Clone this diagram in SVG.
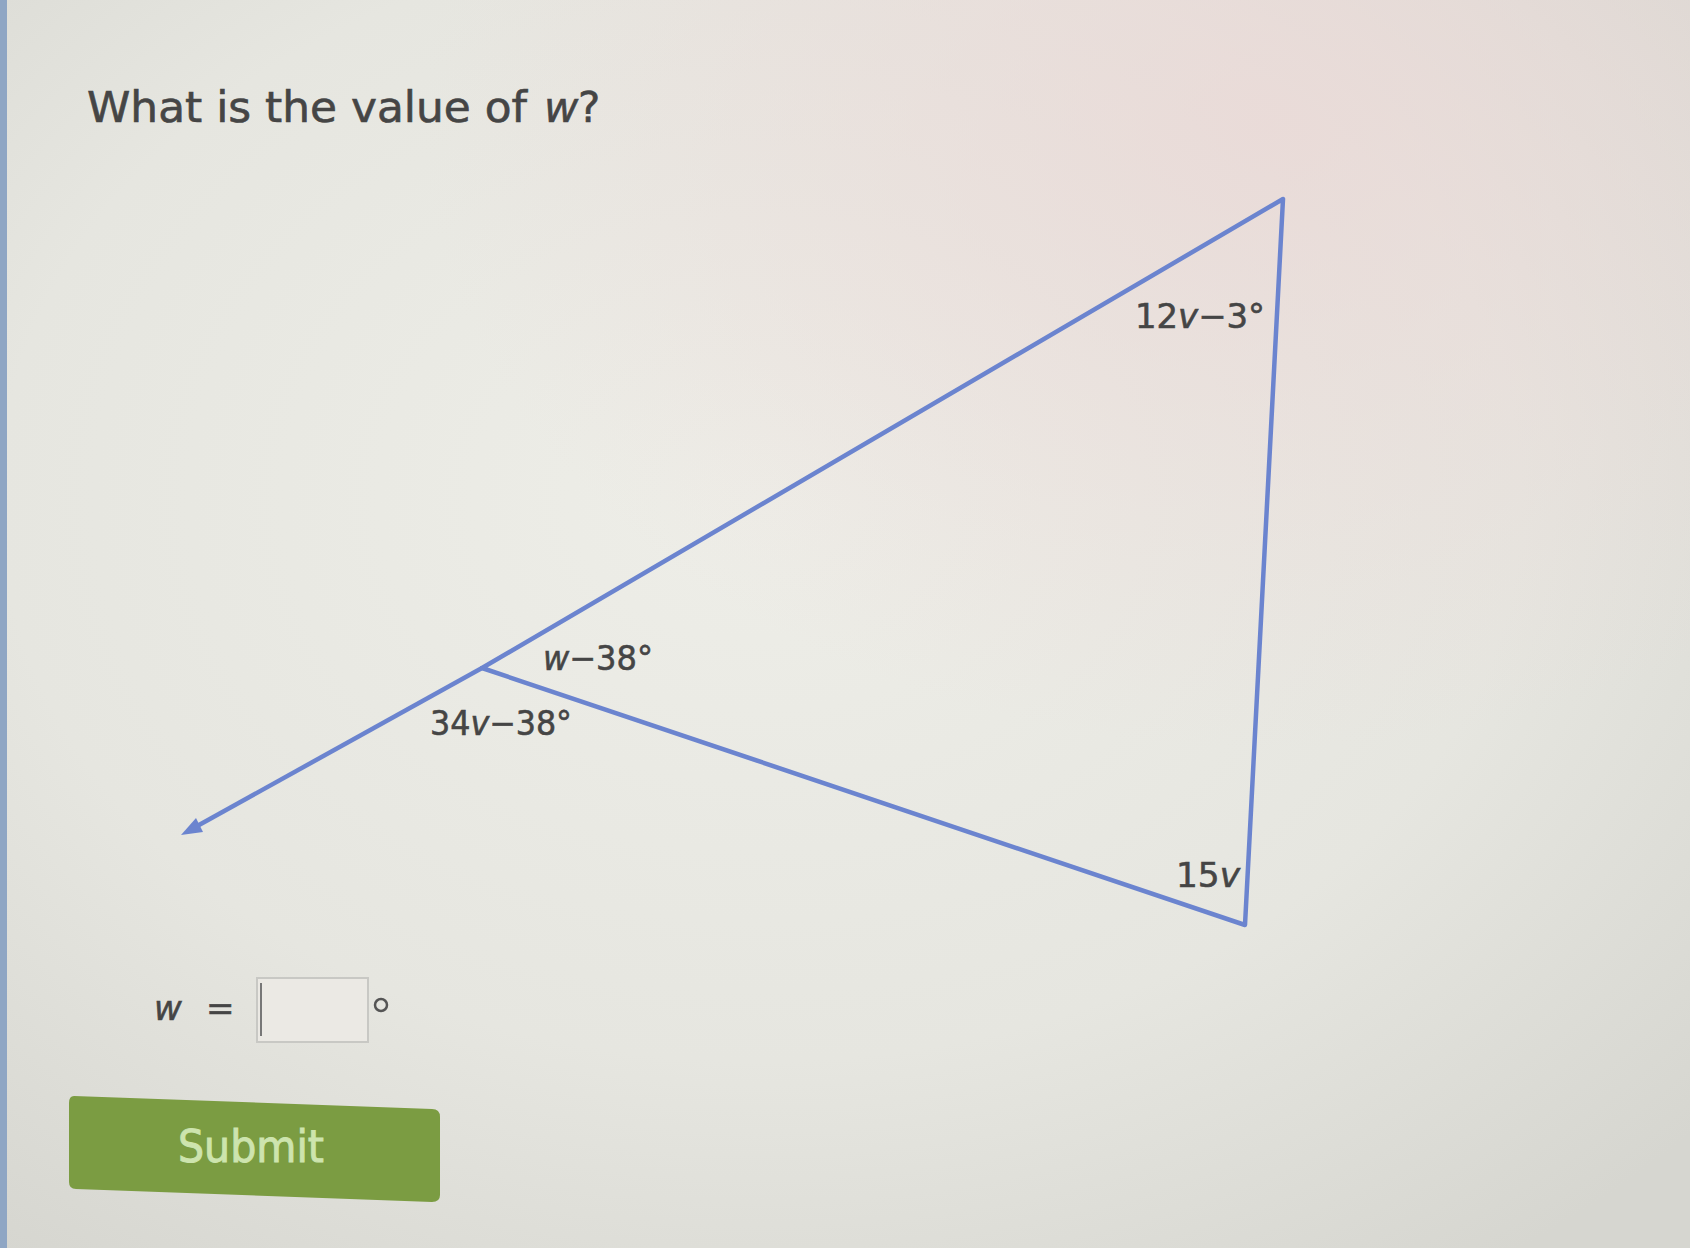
<svg xmlns="http://www.w3.org/2000/svg" width="1690" height="1248" viewBox="0 0 1690 1248">
<defs>
<radialGradient id="bg" cx="0.45" cy="0.4" r="0.75">
<stop offset="0" stop-color="#eeeee8"/>
<stop offset="0.6" stop-color="#e6e6e0"/>
<stop offset="1" stop-color="#d6d6d0"/>
</radialGradient>
<radialGradient id="pink" cx="0.75" cy="0.1" r="0.5">
<stop offset="0" stop-color="#ead8d6" stop-opacity="0.8"/>
<stop offset="1" stop-color="#ead8d6" stop-opacity="0"/>
</radialGradient>
<style>
.t{font-family:"DejaVu Sans",Verdana,sans-serif;fill:#454545;stroke:#454545;stroke-width:0.6}
.lbl{font-size:34px}
.ln{stroke:#6b84cf;stroke-width:4.5;fill:none;stroke-linejoin:round}
</style>
</defs>
<rect width="1690" height="1248" fill="url(#bg)"/>
<rect width="1690" height="1248" fill="url(#pink)"/>
<rect x="0" y="0" width="7" height="1248" fill="#8fa6c4"/>
<g id="title">
<text class="t" x="87" y="122" font-size="42" textLength="440" lengthAdjust="spacingAndGlyphs">What is the value of</text>
<text class="t" x="544" y="122" font-size="42" font-style="italic">w</text>
<text class="t" x="578" y="122" font-size="42">?</text>
</g>
<g id="connectors">
<polygon class="ln" points="1283,199 1245,925 482,668"/>
<line class="ln" x1="482" y1="668" x2="190" y2="830"/>
<polygon points="181,835 196,818 203,832" fill="#6b84cf"/>
</g>
<g id="label-top"><text class="t lbl" x="1135" y="328" textLength="130" lengthAdjust="spacingAndGlyphs">12<tspan font-style="italic">v</tspan>−3°</text></g>
<g id="label-w"><text class="t lbl" x="543" y="670" textLength="110" lengthAdjust="spacingAndGlyphs"><tspan font-style="italic">w</tspan>−38°</text></g>
<g id="label-34v"><text class="t lbl" x="430" y="735" textLength="142" lengthAdjust="spacingAndGlyphs">34<tspan font-style="italic">v</tspan>−38°</text></g>
<g id="label-15v"><text class="t lbl" x="1176" y="887" textLength="64" lengthAdjust="spacingAndGlyphs">15<tspan font-style="italic">v</tspan></text></g>
<g id="answer">
<text class="t" x="154" y="1020" font-size="34" font-style="italic">w</text>
<text class="t" x="206" y="1020" font-size="34">=</text>
<rect x="257" y="978" width="111" height="64" fill="#ebe9e4" stroke="#c8c8c4" stroke-width="2"/>
<line x1="261" y1="983" x2="261" y2="1036" stroke="#777" stroke-width="2"/>
<circle cx="381" cy="1005" r="6" fill="none" stroke="#555" stroke-width="2.5"/>
</g>
<g id="submit">
<path d="M74,1096 L432,1109 Q440,1109 440,1117 L440,1195 Q440,1202 432,1202 L76,1189 Q69,1189 69,1182 L69,1103 Q69,1096 74,1096 Z" fill="#7b9c42"/>
<text x="251" y="1162" font-family="DejaVu Sans,Verdana,sans-serif" font-size="44" fill="#cde4ae" stroke="#cde4ae" stroke-width="1" text-anchor="middle" textLength="146" lengthAdjust="spacingAndGlyphs">Submit</text>
</g>
</svg>
